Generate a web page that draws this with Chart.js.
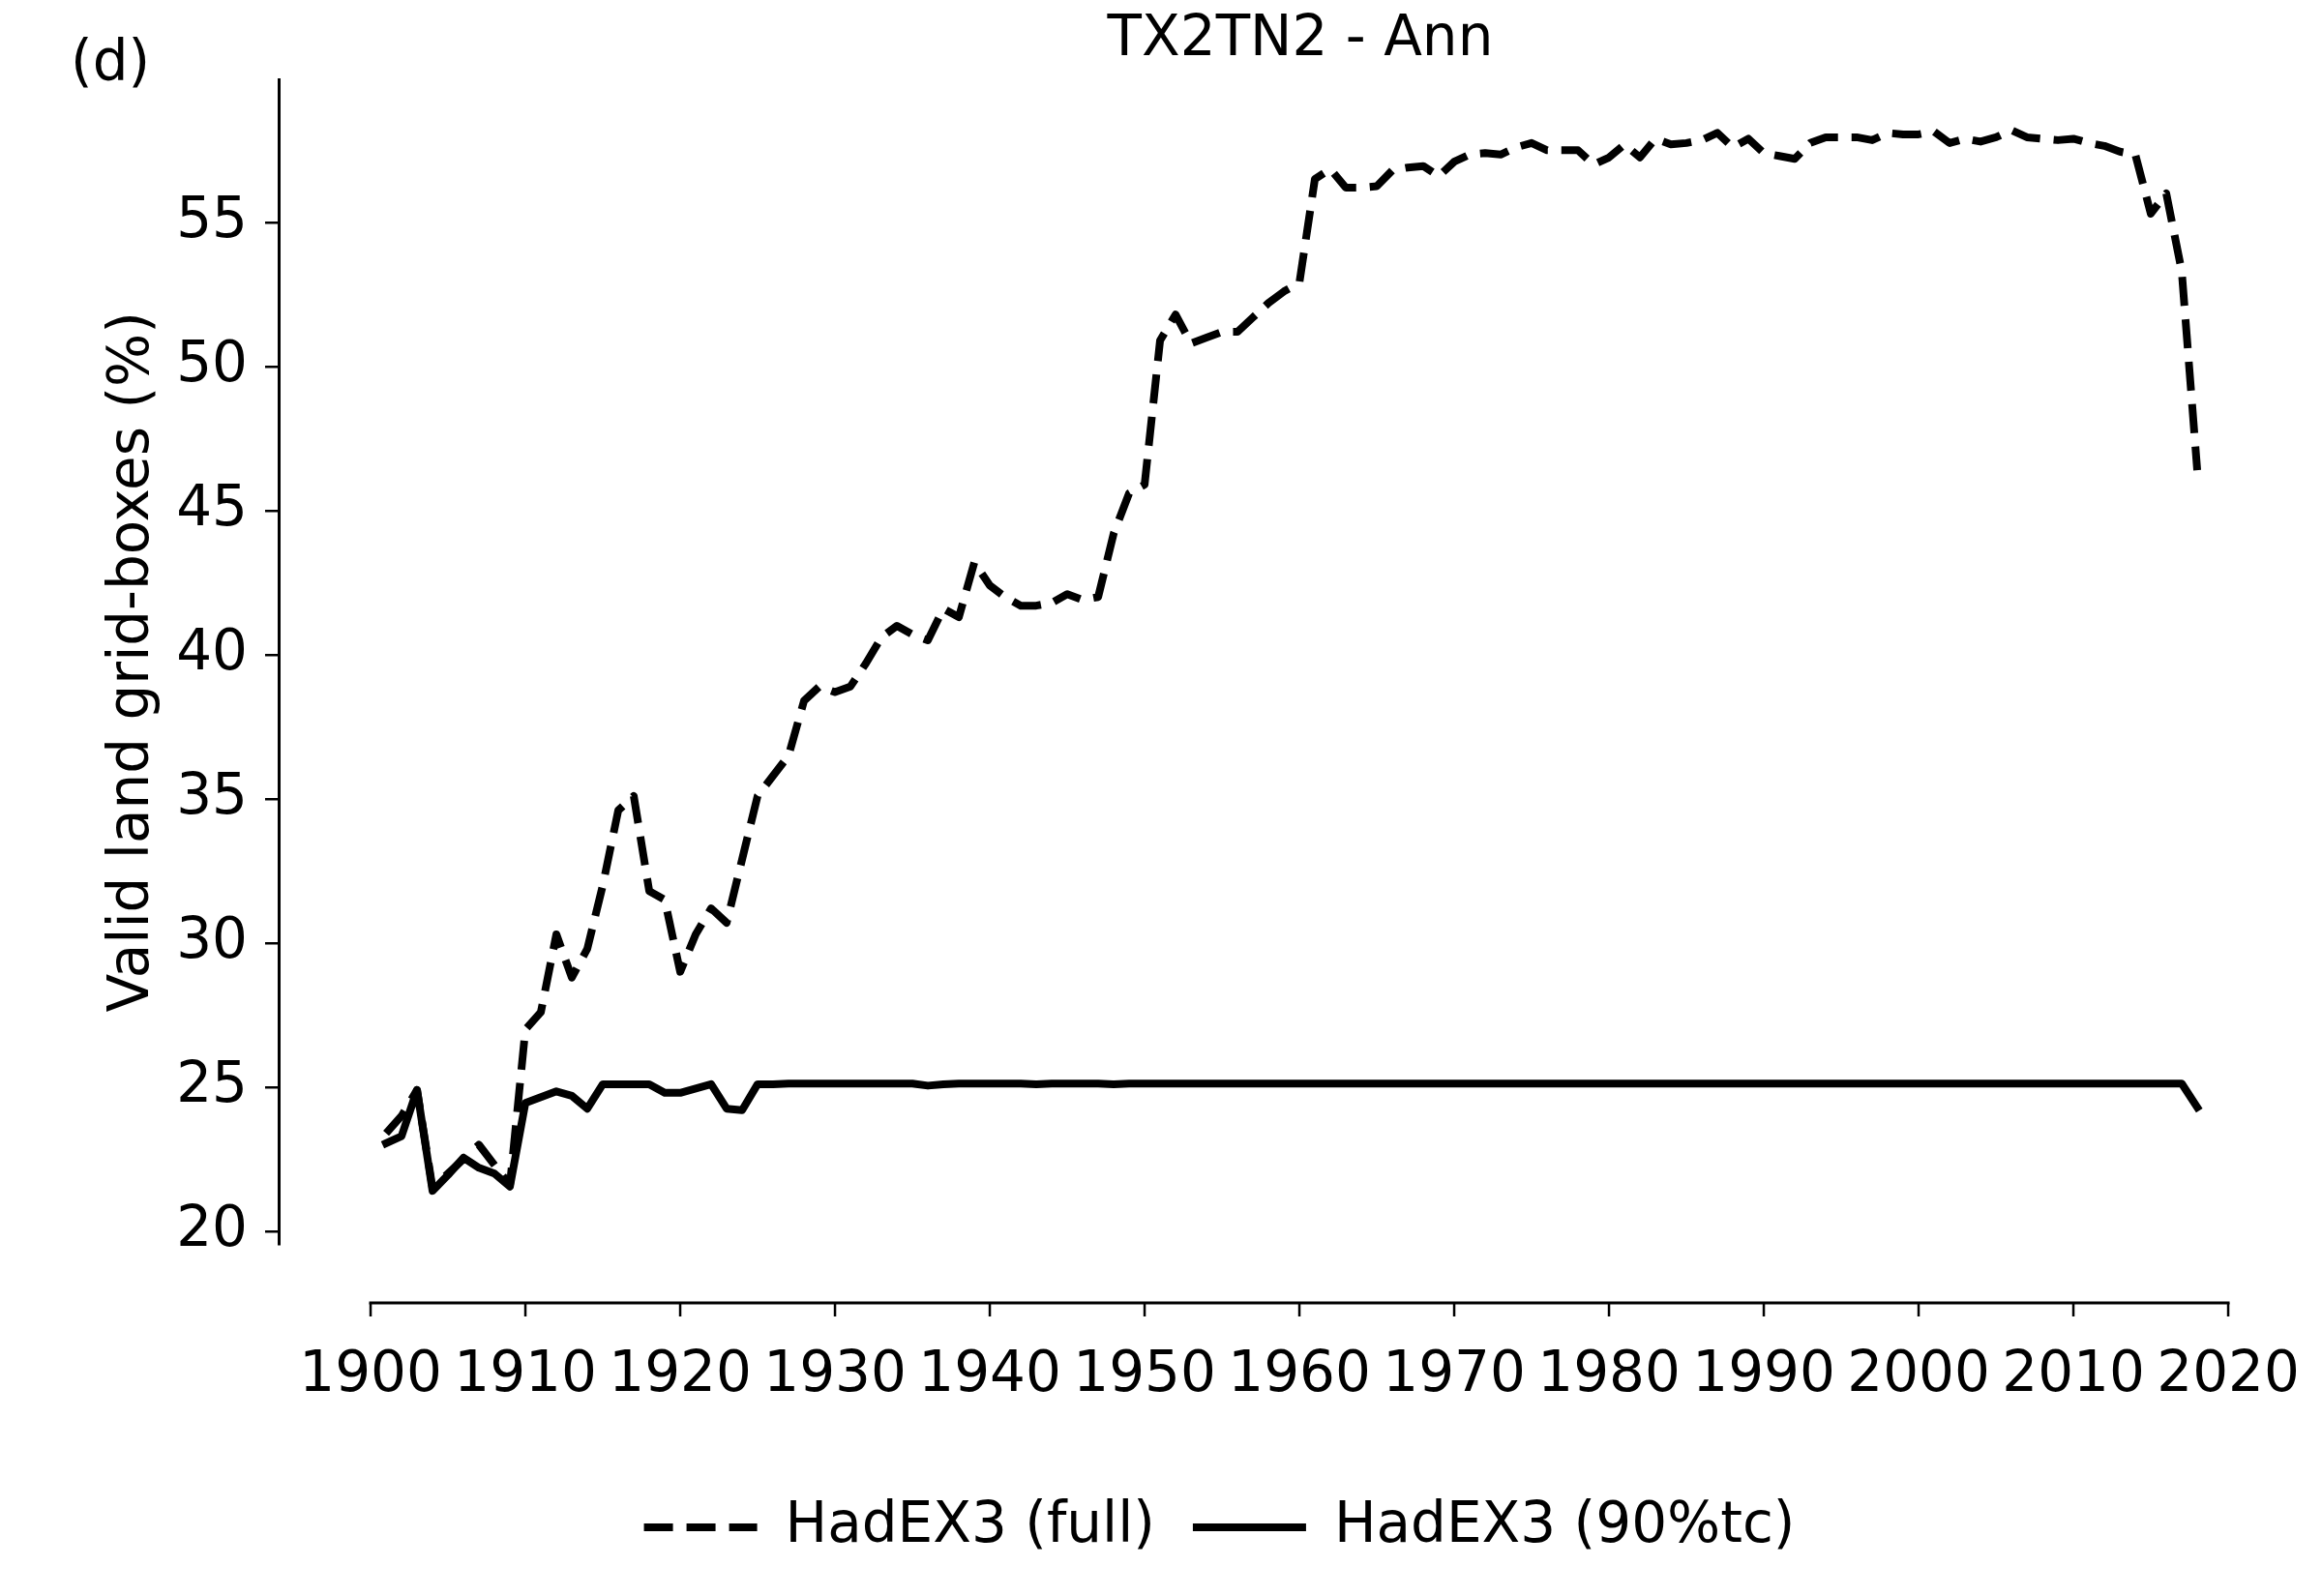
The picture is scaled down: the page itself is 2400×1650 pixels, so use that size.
<!DOCTYPE html>
<html>
<head>
<meta charset="utf-8">
<title>TX2TN2 - Ann</title>
<script src="https://cdn.jsdelivr.net/npm/chart.js@4.4.1/dist/chart.umd.min.js"></script>
<style>
  html, body { margin: 0; padding: 0; background: #fff; }
  #wrap { position: relative; width: 2400px; height: 1650px; }
  #panel { position: absolute; left: 73px; top: 34px; font-family: 'DejaVu Sans'; font-size: 58px; line-height: 58px; color: #000; }
</style>
</head>
<body>
<div id="wrap">
  <canvas id="myChart" width="2400" height="1650"></canvas>
  <div id="panel">(d)</div>
</div>
<script>
// years 1901..2018
var years = [];
for (var yr = 1901; yr <= 2018; yr++) years.push(yr);

// HadEX3 (full), % of valid land grid-boxes
var fullPct = [
  23.4, 24.0, 24.9, 21.5, 22.0, 22.5, 23.0, 22.3, 21.6, 27.0,
  27.6, 30.3, 28.8, 29.8, 32.0, 34.6, 35.1, 31.8, 31.5, 29.0,
  30.3, 31.2, 30.7, 32.9, 35.1, 35.8, 36.5, 38.4, 38.9, 38.7,
  38.9, 39.7, 40.6, 41.0, 40.7, 40.5, 41.6, 41.3, 43.2, 42.4,
  42.0, 41.7, 41.7, 41.8, 42.1, 41.9, 42.0, 44.2, 45.6, 45.9,
  50.9, 51.8, 50.8, 51.0, 51.2, 51.2, 51.7, 52.2, 52.6, 52.9,
  56.5, 56.85, 56.2, 56.2, 56.25, 56.8, 56.9, 56.95, 56.6, 57.1,
  57.35, 57.4, 57.35, 57.6, 57.75, 57.5, 57.5, 57.5, 57.0, 57.25,
  57.7, 57.25, 57.9, 57.7, 57.75, 57.85, 58.1, 57.6, 57.9, 57.4,
  57.3, 57.2, 57.75, 57.95, 57.95, 57.95, 57.85, 58.1, 58.05, 58.05,
  58.15, 57.75, 57.9, 57.8, 57.95, 58.2, 57.95, 57.9, 57.85, 57.9,
  57.75, 57.65, 57.45, 57.35, 55.3, 56.0, 53.3, 46.4
];

// HadEX3 (90%tc)
var tcPct = [
  23.05, 23.3, 24.9, 21.4, 21.95, 22.55, 22.2, 22.0, 21.55, 24.45,
  24.65, 24.85, 24.7, 24.25, 25.1, 25.1, 25.1, 25.1, 24.8, 24.8,
  24.95, 25.1, 24.25, 24.2, 25.1, 25.1, 25.12, 25.12, 25.12, 25.12,
  25.12, 25.12, 25.12, 25.12, 25.12, 25.05, 25.1, 25.12, 25.12, 25.12,
  25.12, 25.12, 25.1, 25.12, 25.12, 25.12, 25.12, 25.1, 25.12, 25.12,
  25.12, 25.12, 25.12, 25.12, 25.12, 25.12, 25.12, 25.12, 25.12, 25.12,
  25.12, 25.12, 25.12, 25.12, 25.12, 25.12, 25.12, 25.12, 25.12, 25.12,
  25.12, 25.12, 25.12, 25.12, 25.12, 25.12, 25.12, 25.12, 25.12, 25.12,
  25.12, 25.12, 25.12, 25.12, 25.12, 25.12, 25.12, 25.12, 25.12, 25.12,
  25.12, 25.12, 25.12, 25.12, 25.12, 25.12, 25.12, 25.12, 25.12, 25.12,
  25.12, 25.12, 25.12, 25.12, 25.12, 25.12, 25.12, 25.12, 25.12, 25.12,
  25.12, 25.12, 25.12, 25.12, 25.12, 25.12, 25.12, 24.3
];

var xTicks = [1900, 1910, 1920, 1930, 1940, 1950, 1960, 1970, 1980, 1990, 2000, 2010, 2020];
var yTicks = [20, 25, 30, 35, 40, 45, 50, 55];

Chart.defaults.font.family = 'DejaVu Sans';
Chart.defaults.font.size = 58;
Chart.defaults.color = '#000';

// bottom spine sits below the plot, only spanning 1900-2020
var offsetXAxis = {
  id: 'offsetXAxis',
  afterDraw: function(chart) {
    var ctx = chart.ctx;
    var x = chart.scales.x;
    var y = chart.chartArea.bottom + 61;
    ctx.save();
    ctx.strokeStyle = '#000';
    ctx.lineWidth = 3;
    ctx.lineCap = 'square';
    ctx.beginPath();
    ctx.moveTo(x.getPixelForValue(xTicks[0]), y);
    ctx.lineTo(x.getPixelForValue(xTicks[xTicks.length - 1]), y);
    ctx.stroke();
    ctx.lineCap = 'butt';
    ctx.lineWidth = 2.5;
    x.ticks.forEach(function(t) {
      var px = x.getPixelForValue(t.value);
      ctx.beginPath();
      ctx.moveTo(px, y);
      ctx.lineTo(px, y + 14);
      ctx.stroke();
    });
    ctx.restore();
  }
};

var ctx = document.getElementById('myChart').getContext('2d');
var myChart = new Chart(ctx, {
  type: 'line',
  data: {
    datasets: [{
      label: 'HadEX3 (full)',
      data: years.map(function(y, i) { return {x: y, y: fullPct[i]}; }),
      borderColor: '#000',
      backgroundColor: '#000',
      borderWidth: 8,
      borderDash: [30, 14],
      borderCapStyle: 'butt',
      borderJoinStyle: 'round',
      pointRadius: 0,
      tension: 0,
      order: 1
    }, {
      label: 'HadEX3 (90%tc)',
      data: years.map(function(y, i) { return {x: y, y: tcPct[i]}; }),
      borderColor: '#000',
      backgroundColor: '#000',
      borderWidth: 8,
      borderCapStyle: 'square',
      borderJoinStyle: 'round',
      pointRadius: 0,
      tension: 0,
      order: 0
    }]
  },
  options: {
    responsive: false,
    animation: false,
    devicePixelRatio: 1,
    layout: {
      padding: {left: 121, right: 0, top: 0, bottom: 32}
    },
    scales: {
      x: {
        type: 'linear',
        min: 1894.06,
        max: 2026.06,
        afterBuildTicks: function(s) { s.ticks = xTicks.map(function(v) { return {value: v}; }); },
        afterFit: function(s) { s.height = 225; s.paddingLeft = 0; s.paddingRight = 0; },
        grid: {display: false, drawTicks: false},
        border: {display: false},
        ticks: {
          padding: 102,
          autoSkip: false,
          maxRotation: 0,
          callback: function(value) { return String(value); }
        }
      },
      y: {
        min: 19.56,
        max: 59.94,
        afterBuildTicks: function(s) { s.ticks = yTicks.map(function(v) { return {value: v}; }); },
        afterFit: function(s) { s.width = 167; s.paddingTop = 0; s.paddingBottom = 0; },
        grid: {drawOnChartArea: false, drawTicks: true, tickLength: 14, color: '#000', lineWidth: 2.5},
        border: {display: true, color: '#000', width: 3},
        ticks: {
          padding: 18,
          callback: function(value) { return String(value); }
        },
        title: {
          display: true,
          text: 'Valid land grid-boxes (%)',
          padding: {top: -18, bottom: 0}
        }
      }
    },
    plugins: {
      title: {
        display: true,
        text: 'TX2TN2 - Ann',
        fullSize: false,
        font: {size: 58, weight: 'normal'},
        padding: {top: 7, bottom: 6}
      },
      legend: {
        position: 'bottom',
        labels: {
          usePointStyle: true,
          pointStyle: 'line',
          pointStyleWidth: 117,
          padding: 39,
          sort: function(a, b) { return a.datasetIndex - b.datasetIndex; },
          generateLabels: function(chart) {
            return Chart.defaults.plugins.legend.labels.generateLabels(chart).map(function(item) {
              var ds = chart.data.datasets[item.datasetIndex];
              item.lineWidth = ds.borderWidth;
              item.lineDash = ds.borderDash || [];
              item.lineCap = 'butt';
              item.strokeStyle = ds.borderColor;
              return item;
            });
          }
        }
      },
      tooltip: {enabled: false}
    }
  },
  plugins: [offsetXAxis]
});
</script>
</body>
</html>
